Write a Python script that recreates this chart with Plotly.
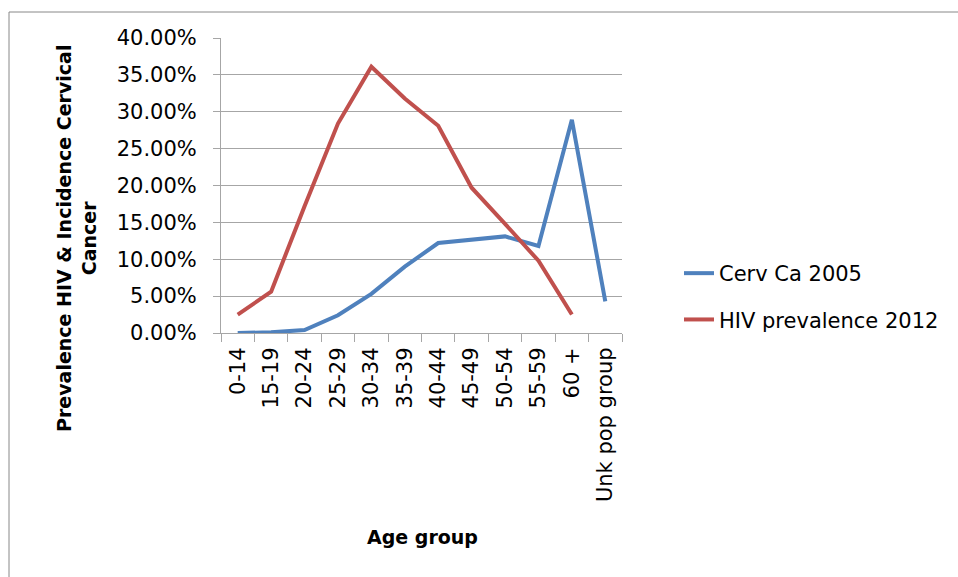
import plotly.graph_objects as go

# Age groups and the two series (fractions, shown as percentages)
age_groups = ["0-14", "15-19", "20-24", "25-29", "30-34", "35-39", "40-44",
              "45-49", "50-54", "55-59", "60 +", "Unk pop group"]
cerv_ca_2005 = [0.000, 0.001, 0.004, 0.024, 0.053, 0.090, 0.122,
                0.127, 0.131, 0.118, 0.289, 0.043]
hiv_prev_2012 = [0.025, 0.056, 0.172, 0.284, 0.361, 0.318, 0.281,
                 0.197, 0.148, 0.098, 0.025, None]
y_ticks = [0.0, 0.05, 0.10, 0.15, 0.20, 0.25, 0.30, 0.35, 0.40]

W, H = 958, 577
L, R, T, B = 221, 336, 38, 244
pw, ph = W - L - R, H - T - B

def px_x(x):
    return (x - L) / pw

def px_y(y):
    return (H - B - y) / ph

BLUE = "#4F81BD"
RED = "#C0504D"
GRID = "#A6A6A6"
FONT = "DejaVu Sans"

fig = go.Figure()
fig.add_trace(go.Scatter(
    x=age_groups, y=cerv_ca_2005, mode="lines", name="Cerv Ca 2005",
    line=dict(color=BLUE, width=4), legendgroup="a"))
fig.add_trace(go.Scatter(
    x=age_groups, y=hiv_prev_2012, mode="lines", name="HIV prevalence 2012",
    line=dict(color=RED, width=4), legendgroup="b"))

fig.update_layout(
    width=W, height=H,
    margin=dict(l=L, r=R, t=T, b=B, autoexpand=False),
    paper_bgcolor="white", plot_bgcolor="white",
    font=dict(family=FONT, size=21, color="black"),
    showlegend=True,
    legend=dict(x=px_x(679), y=px_y(253), xanchor="left", yanchor="top",
                font=dict(family=FONT, size=21), tracegroupgap=16,
                traceorder="grouped", bgcolor="rgba(0,0,0,0)"),
    xaxis=dict(
        type="category", range=[-0.5, 11.5], tickson="boundaries",
        ticks="outside", ticklen=8, tickcolor=GRID, tickangle=-90,
        showline=True, linecolor=GRID, linewidth=1, showgrid=False,
        tickfont=dict(family=FONT, size=21), ticklabelstandoff=5,
        fixedrange=True),
    yaxis=dict(
        range=[0, 0.40], tickvals=y_ticks, tickformat=".2%",
        ticks="outside", ticklen=7, tickcolor=GRID,
        showline=True, linecolor=GRID, linewidth=1,
        showgrid=True, gridcolor=GRID, gridwidth=1, zeroline=False,
        tickfont=dict(family=FONT, size=21), ticklabelstandoff=12,
        fixedrange=True),
)

# Axis titles
fig.add_annotation(
    text="<b>Prevalence HIV & Incidence Cervical<br>Cancer</b>",
    xref="paper", yref="paper", x=px_x(76), y=px_y(239),
    xanchor="center", yanchor="middle",
    textangle=-90, showarrow=False, align="center",
    font=dict(family=FONT, size=19, color="black"))
fig.add_annotation(
    text="<b>Age group</b>", xref="paper", yref="paper",
    x=px_x(422), y=px_y(537), xanchor="center", yanchor="middle",
    showarrow=False,
    font=dict(family=FONT, size=19, color="black"))

# Chart frame
fig.add_shape(type="rect", xref="paper", yref="paper",
              x0=px_x(9), x1=px_x(970), y0=px_y(590), y1=px_y(12),
              line=dict(color="#888888", width=1), layer="below")

fig.write_html("out.html")
